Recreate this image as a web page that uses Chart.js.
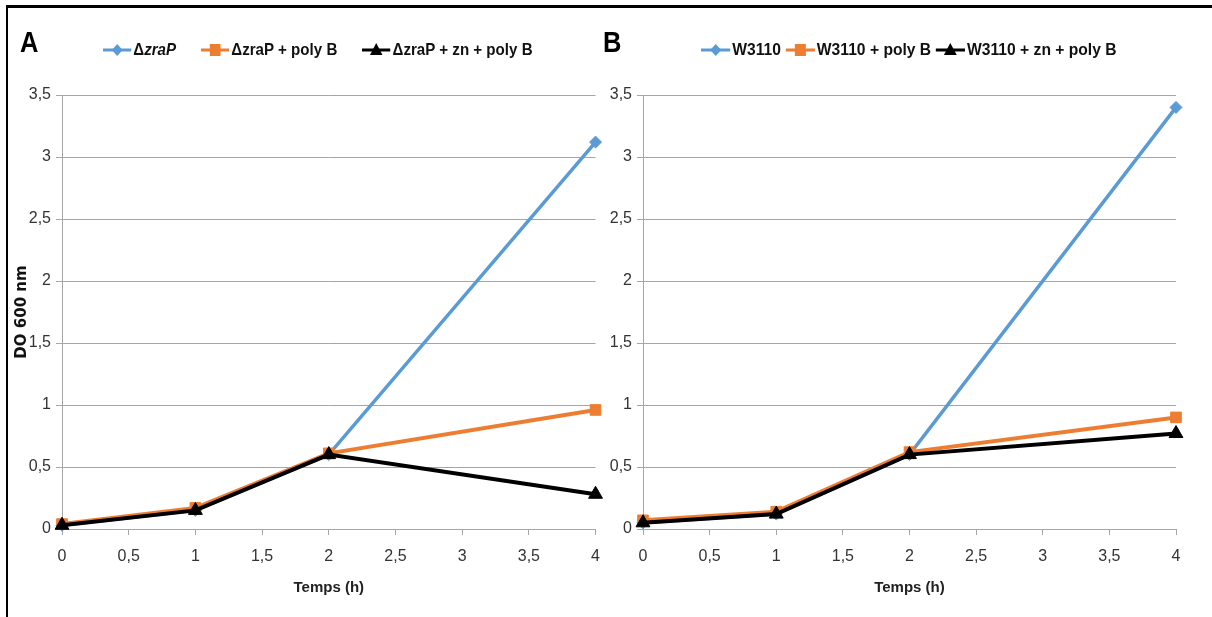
<!DOCTYPE html>
<html>
<head>
<meta charset="utf-8">
<script src="https://cdn.jsdelivr.net/npm/chart.js@4.4.1/dist/chart.umd.min.js"></script>
<style>
  html, body { margin:0; padding:0; background:#fff; }
  #wrap { position:relative; width:1212px; height:617px; overflow:hidden; background:#fff; }
  .cv { position:absolute; top:0; }
  .frameTop { position:absolute; left:6px; top:5px; width:1206px; height:3px; background:#000; }
  .frameLeft { position:absolute; left:6px; top:5px; width:2px; height:612px; background:#000; }
  .panelLetter { position:absolute; font-family:"Liberation Sans",sans-serif; font-weight:bold; font-size:30px; color:#000; line-height:1; transform:scaleX(0.85); transform-origin:left top; }
  .legend { position:absolute; top:40px; display:flex; align-items:center; font-family:"Liberation Sans",sans-serif; font-weight:bold; font-size:17px; color:#111; white-space:nowrap; transform-origin:left center; }
  .legend .item { display:flex; align-items:center; }
  .legend svg { margin-right:2px; }
</style>
</head>
<body>
<div id="wrap">
  <canvas id="cA" class="cv" style="left:0px" width="612" height="617"></canvas>
  <canvas id="cB" class="cv" style="left:590px" width="622" height="617"></canvas>
  <div class="frameTop"></div>
  <div class="frameLeft"></div>
  <div class="panelLetter" style="left:20px; top:27px;">A</div>
  <div class="panelLetter" style="left:603px; top:27px;">B</div>
  <div id="legA" class="legend" style="left:103px; gap:28px; transform:scaleX(0.89);"></div>
  <div id="legB" class="legend" style="left:701px; gap:5px; transform:scaleX(0.92);"></div>
</div>
<script>
// ---- data ----
const hours = [0, 1, 2, 4];

const seriesNamesA = ["ΔzraP", "ΔzraP + poly B", "ΔzraP + zn + poly B"];
const A_dzraP          = [0.03, 0.15, 0.60, 3.12];
const A_dzraP_polyB    = [0.04, 0.17, 0.61, 0.96];
const A_dzraP_zn_polyB = [0.03, 0.15, 0.60, 0.28];

const seriesNamesB = ["W3110", "W3110 + poly B", "W3110 + zn + poly B"];
const B_W3110          = [0.05, 0.12, 0.60, 3.40];
const B_W3110_polyB    = [0.07, 0.14, 0.62, 0.90];
const B_W3110_zn_polyB = [0.05, 0.12, 0.60, 0.77];

const xAxisTitle = "Temps (h)";
const yAxisTitle = "DO 600 nm";
const xMin = 0, xMax = 4, xStep = 0.5;
const yMin = 0, yMax = 3.5, yStep = 0.5;

// ---- styles ----
const BLUE = "#5B9BD5", ORANGE = "#ED7D31", BLACK = "#000000";
const GRID = "#a6a6a6";
const TICK_FONT = { family: "'Liberation Sans', sans-serif", size: 16 };
const comma = v => String(v).replace('.', ',');

function pts(vals) { return hours.map((h, i) => ({ x: h, y: vals[i] })); }

function makeDatasets(names, v1, v2, v3) {
  return [
    { label: names[0], data: pts(v1), borderColor: BLUE, backgroundColor: BLUE, borderWidth: 3.5,
      pointStyle: 'rectRot', pointRadius: 6, pointBorderWidth: 1, order: 3, clip: false },
    { label: names[1], data: pts(v2), borderColor: ORANGE, backgroundColor: ORANGE, borderWidth: 4,
      pointStyle: 'rect', pointRadius: 7.5, pointBorderWidth: 1, order: 2, clip: false },
    { label: names[2], data: pts(v3), borderColor: BLACK, backgroundColor: BLACK, borderWidth: 4,
      pointStyle: 'triangle', pointRadius: 8, pointBorderWidth: 1, order: 1, clip: false }
  ];
}

function makeChart(id, datasets, yWidth, rightPad, showYTitle) {
  return new Chart(document.getElementById(id), {
    type: 'line',
    data: { datasets },
    options: {
      responsive: false,
      animation: false,
      events: [],
      layout: { padding: { left: 0, right: rightPad, top: 95, bottom: 0 } },
      plugins: { legend: { display: false }, tooltip: { enabled: false } },
      elements: { line: { tension: 0 } },
      scales: {
        x: {
          type: 'linear', min: xMin, max: xMax,
          afterFit: s => { s.height = 88; },
          ticks: { stepSize: xStep, callback: v => comma(v), color: '#333', font: TICK_FONT, padding: 12, maxRotation: 0, autoSkip: false },
          grid: { drawOnChartArea: false, drawTicks: true, tickLength: 6, color: GRID },
          border: { display: true, color: GRID, width: 1 },
          title: { display: true, text: xAxisTitle, color: '#222',
                   font: { family: "'Liberation Sans', sans-serif", size: 15, weight: 'bold' },
                   padding: { top: 0, bottom: 20 } }
        },
        y: {
          min: yMin, max: yMax,
          afterFit: s => { s.width = yWidth; },
          ticks: { stepSize: yStep, callback: v => comma(v), color: '#333', font: TICK_FONT, padding: 5 },
          grid: { color: GRID, tickLength: 6, lineWidth: 1 },
          border: { display: true, color: GRID, width: 1 },
          title: { display: showYTitle, text: yAxisTitle, color: '#111',
                   font: { family: "'DejaVu Sans', sans-serif", size: 15, weight: 'bold' },
                   padding: { top: 13, bottom: 0 } }
        }
      }
    }
  });
}

const chartA = makeChart('cA', makeDatasets(seriesNamesA, A_dzraP, A_dzraP_polyB, A_dzraP_zn_polyB), 62, 11, true);
const chartB = makeChart('cB', makeDatasets(seriesNamesB, B_W3110, B_W3110_polyB, B_W3110_zn_polyB), 53, 36, false);

// ---- HTML legends built from the chart datasets ----
function markerSVG(ds) {
  const c = ds.borderColor;
  let m = '';
  if (ds.pointStyle === 'rectRot') m = `<polygon points="16,2 22,8 16,14 10,8" fill="${c}"/>`;
  else if (ds.pointStyle === 'rect') m = `<rect x="10" y="2" width="12" height="12" fill="${c}"/>`;
  else m = `<polygon points="16,1 23,13 9,13" fill="${c}"/>`;
  return `<svg width="32" height="16" viewBox="0 0 32 16"><line x1="0" y1="8" x2="32" y2="8" stroke="${c}" stroke-width="3"/>${m}</svg>`;
}
function fillLegend(elId, chart, italicFirst) {
  const el = document.getElementById(elId);
  chart.data.datasets.forEach((ds, i) => {
    const item = document.createElement('div');
    item.className = 'item';
    let label = ds.label;
    if (italicFirst && i === 0) label = label.replace('zraP', '<i>zraP</i>');
    item.innerHTML = markerSVG(ds) + '<span>' + label + '</span>';
    el.appendChild(item);
  });
}
fillLegend('legA', chartA, true);
fillLegend('legB', chartB, false);
</script>
</body>
</html>
